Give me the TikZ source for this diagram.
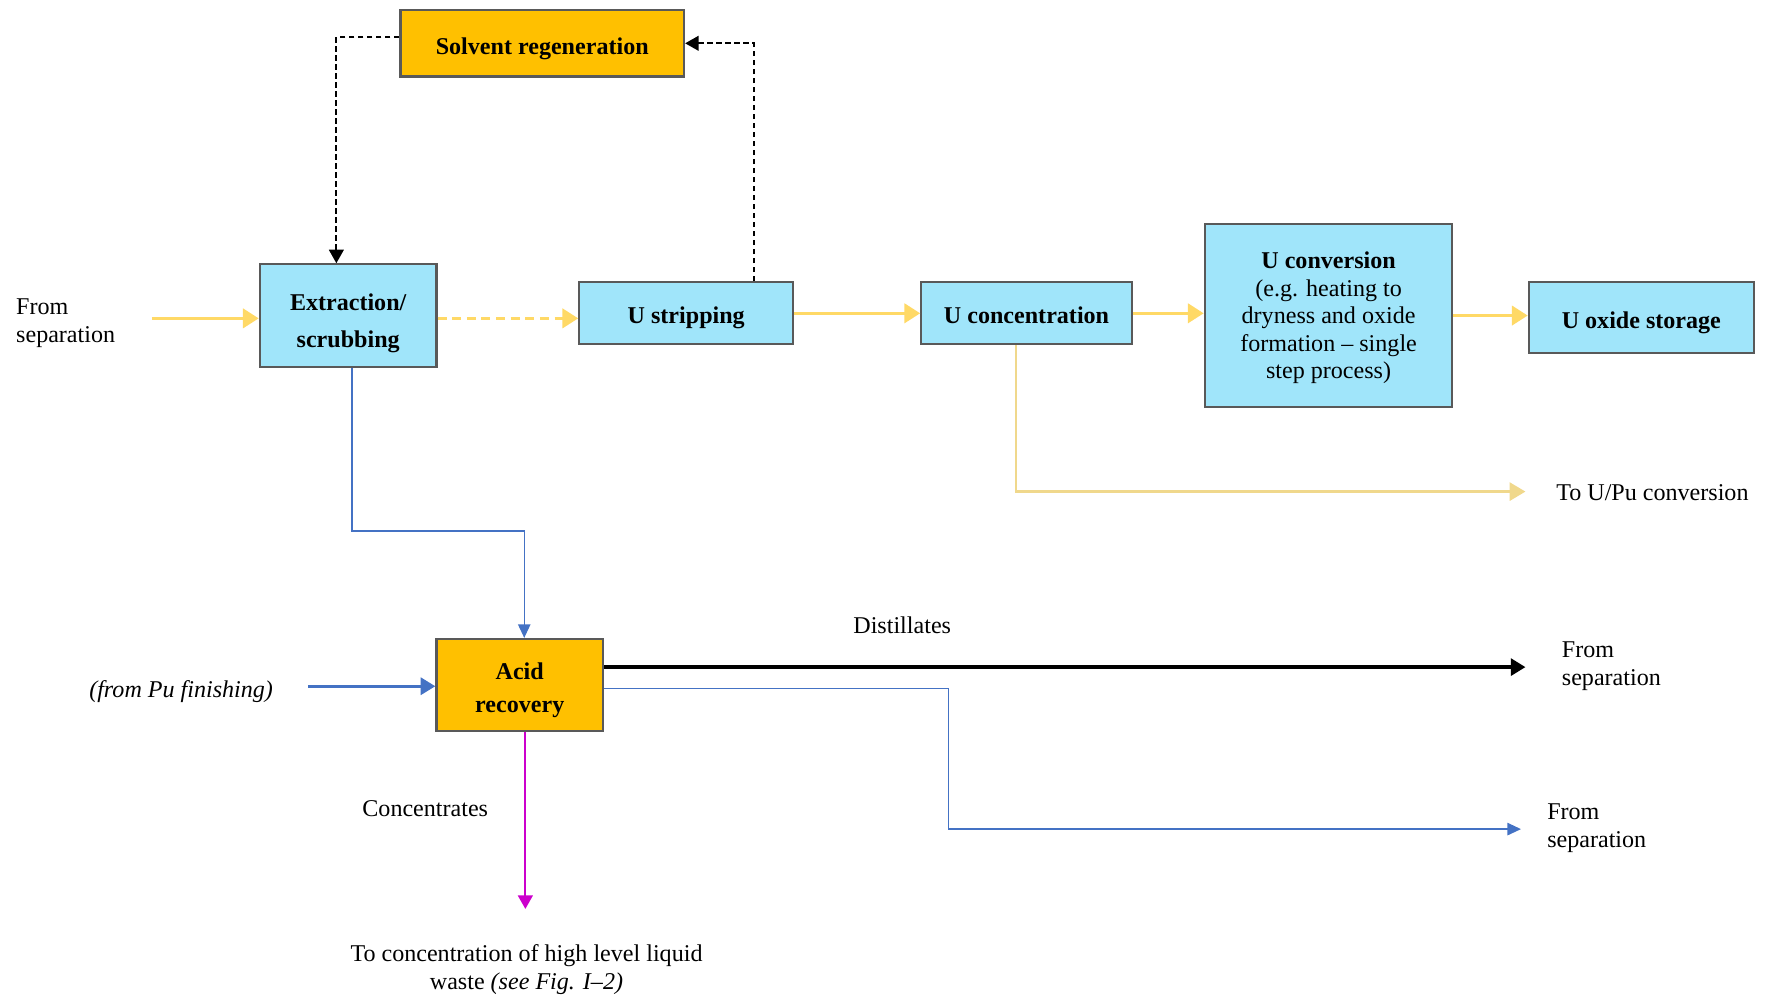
\documentclass[tikz,border=0pt]{standalone}
\usepackage{xcolor}
\usepackage{fontspec}
\setmainfont{Liberation Serif}
\usepackage{tikz}
\usetikzlibrary{arrows.meta,positioning}
\definecolor{boxblue}{RGB}{160,229,250}
\definecolor{boxorange}{RGB}{255,192,0}
\definecolor{boxborder}{RGB}{89,89,89}
\definecolor{flowyellow}{RGB}{255,217,102}
\definecolor{paleyellow}{RGB}{240,216,140}
\definecolor{flowblue}{RGB}{68,114,196}
\definecolor{flowmagenta}{RGB}{204,0,204}
\newcommand{\boxstrut}[1]{\rule{0pt}{#1}}

\begin{document}
\begin{tikzpicture}[
			x=0.5pt, y=-0.5pt,
			font=\fontsize{10.7}{12.5}\selectfont,
			box/.style={draw=boxborder, line width=1pt, fill=boxblue, align=center, inner sep=2pt, font=\fontsize{10.7}{12.5}\selectfont\bfseries},
			hotbox/.style={box, fill=boxorange},
			lbl/.style={inner sep=0pt, align=left},
			yarrow/.style={draw=flowyellow, line width=1.5pt, -{Triangle[length=7pt,width=8.5pt]}},
			paleflow/.style={draw=paleyellow, line width=1.2pt, -{Triangle[length=7pt,width=8pt]}},
			dashflow/.style={draw=black, line width=0.9pt, dash pattern=on 2.5pt off 1.5pt, -{Triangle[length=6pt,width=6.5pt]}},
			thinblue/.style={draw=flowblue, line width=0.6pt, -{Triangle[length=6pt,width=5.5pt]}},
			thickblue/.style={draw=flowblue, line width=1.5pt, -{Triangle[length=6.5pt,width=7.5pt]}},
			blackflow/.style={draw=black, line width=1.5pt, -{Triangle[length=6.5pt,width=7.5pt]}},
			magflow/.style={draw=flowmagenta, line width=1pt, -{Triangle[length=6pt,width=6.5pt]}}
		]
		\useasboundingbox (0,0) rectangle (1570.7,888);

		% process boxes
		\node[box, minimum width=78.5pt, minimum height=45.5pt, font=\fontsize{10.7}{16.5}\selectfont\bfseries] (extract) at (309.5,280.5) {\boxstrut{14pt}Extraction/\\scrubbing};
		\node[box, minimum width=95pt, minimum height=27.5pt, right=62.5pt of extract, yshift=1pt] (strip) {\boxstrut{11.5pt}U stripping};
		\node[box, minimum width=93.5pt, minimum height=27.5pt, right=56pt of strip] (uconc) {\boxstrut{9.5pt}U concentration};
		\node[box, minimum width=110pt, minimum height=81.5pt, right=31.5pt of uconc, yshift=-1pt, font=\fontsize{10.7}{12.25}\selectfont] (uconv) {\boxstrut{9.5pt}\textbf{U conversion}\\(e.g. heating to\\dryness and oxide\\formation -- single\\step process)};
		\node[box, minimum width=100pt, minimum height=31.5pt, right=33pt of uconv, yshift=-1pt] (ustore) {\boxstrut{11.5pt}U oxide storage};
		\node[hotbox, minimum width=126pt, minimum height=29.5pt] (solvent) at (482,38.5) {\boxstrut{12.5pt}Solvent regeneration};
		\node[hotbox, minimum width=74pt, minimum height=41pt, font=\fontsize{10.7}{14.5}\selectfont\bfseries] (acid) at (462,609) {\boxstrut{12pt}Acid\\recovery};

		% texts
		\node[lbl, anchor=west] (srcsep) at (14,287.5) {From\\separation};
		\node[lbl] (pufin) at (161,615) {\itshape (from Pu finishing)};
		\node[lbl] (distil) at (802,556) {Distillates};
		\node[lbl, anchor=west] (sepA) at (1388,592.5) {From\\separation};
		\node[lbl, anchor=west] (sepB) at (1375,736) {From\\separation};
		\node[lbl, anchor=west] (upu) at (1383,438) {To U/Pu conversion};
		\node[lbl] (concn) at (378,719) {Concentrates};
		\node[lbl, align=center] (hlw) at (468,861.5) {To concentration of high level liquid\\waste \textit{(see Fig. I--2)}};

		% free ends
		\coordinate (fromsep) at (135,283);
		\coordinate (toupu) at (1356,437);
		\coordinate (pufeed) at (274,610);
		\coordinate (distend) at (1356,593);
		\coordinate (recycend) at (1352,737);
		\coordinate (wasteend) at (467,808);

		% flows
		\draw[yarrow] (fromsep) -- (fromsep -| extract.west);
		\draw[yarrow, dash pattern=on 4pt off 2.5pt] (extract.east |- fromsep) -- (fromsep -| strip.west);
		\draw[yarrow] (strip) -- (uconc);
		\draw[yarrow] (uconc.east) -- (uconc.east -| uconv.west);
		\draw[yarrow] (uconv.east) -- (uconv.east -| ustore.west);
		\draw[paleflow] ([xshift=-4.75pt]uconc.south) |- (toupu);
		\draw[dashflow] ([yshift=2.75pt]solvent.west) -| ([xshift=-5.25pt]extract.north);
		\draw[dashflow] ([xshift=30pt]strip.north) |- (solvent.east);
		\draw[thinblue] ([xshift=1.75pt]extract.south) -- ++(0,145) -| ([xshift=2pt]acid.north);
		\draw[thickblue] (pufeed) -- (pufeed -| acid.west);
		\draw[blackflow] ([yshift=8pt]acid.east) -- (distend);
		\draw[thinblue] ([yshift=-1.5pt]acid.east) -- ++(306,0) |- (recycend);
		\draw[magflow] ([xshift=2.5pt]acid.south) -- (wasteend);

	\end{tikzpicture}
\end{document}
